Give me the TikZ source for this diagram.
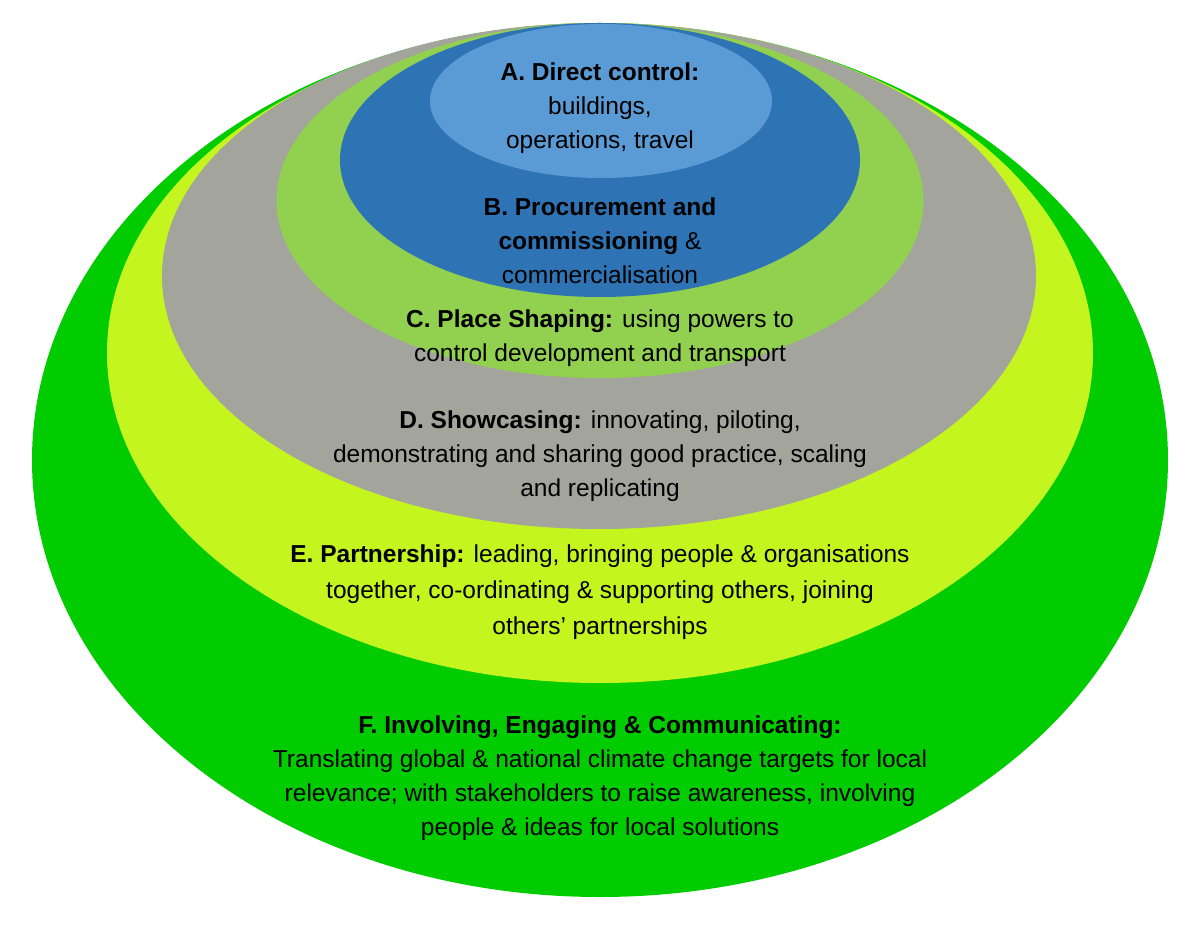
\documentclass[tikz,border=0pt]{standalone}
\usepackage{fontspec}
\setmainfont{Liberation Sans}
\definecolor{cF}{HTML}{00CC00}
\definecolor{cE}{HTML}{C4F51E}
\definecolor{cD}{HTML}{A3A59C}
\definecolor{cC}{HTML}{92D050}
\definecolor{cB}{HTML}{2E74B5}
\definecolor{cA}{HTML}{5B9BD5}
\begin{document}
\begin{tikzpicture}[x=1pt,y=-1pt,
  lbl/.style={align=center,inner sep=0pt,text=black,font=\fontsize{24.5}{34}\selectfont}]
\useasboundingbox (0,0) rectangle (1200,925);
\fill[white] (0,0) rectangle (1200,925);
\fill[cF] (600,460) ellipse [x radius=568pt, y radius=437pt];
\fill[cE] (600,353) ellipse [x radius=493pt, y radius=330pt];
\fill[cD] (599,276) ellipse [x radius=437pt, y radius=253pt];
\fill[cC] (600,200.5) ellipse [x radius=323.5pt, y radius=177.5pt];
\fill[cB] (600,160) ellipse [x radius=260pt, y radius=137pt];
\fill[cA] (601,101) ellipse [x radius=171pt, y radius=77pt];
\node[lbl] (tA) at (600,108) {\textbf{A. Direct control:}\\buildings,\\operations, travel};
\node[lbl] (tB) at (600,241) {\textbf{B. Procurement and}\\\textbf{commissioning} \&\\commercialisation};
\node[lbl] (tC) at (600,338) {\textbf{C. Place Shaping:} using powers to\\control development and transport};
\node[lbl] (tD) at (600,456) {\textbf{D. Showcasing:} innovating, piloting,\\demonstrating and sharing good practice, scaling\\and replicating};
\node[lbl,font=\fontsize{24.5}{36}\selectfont] (tE) at (600,592) {\textbf{E. Partnership:} leading, bringing people \& organisations\\together, co-ordinating \& supporting others, joining\\others’ partnerships};
\node[lbl] (tF) at (600,778) {\textbf{F. Involving, Engaging \& Communicating:}\\Translating global \& national climate change targets for local\\relevance; with stakeholders to raise awareness, involving\\people \& ideas for local solutions};
\end{tikzpicture}
\end{document}
